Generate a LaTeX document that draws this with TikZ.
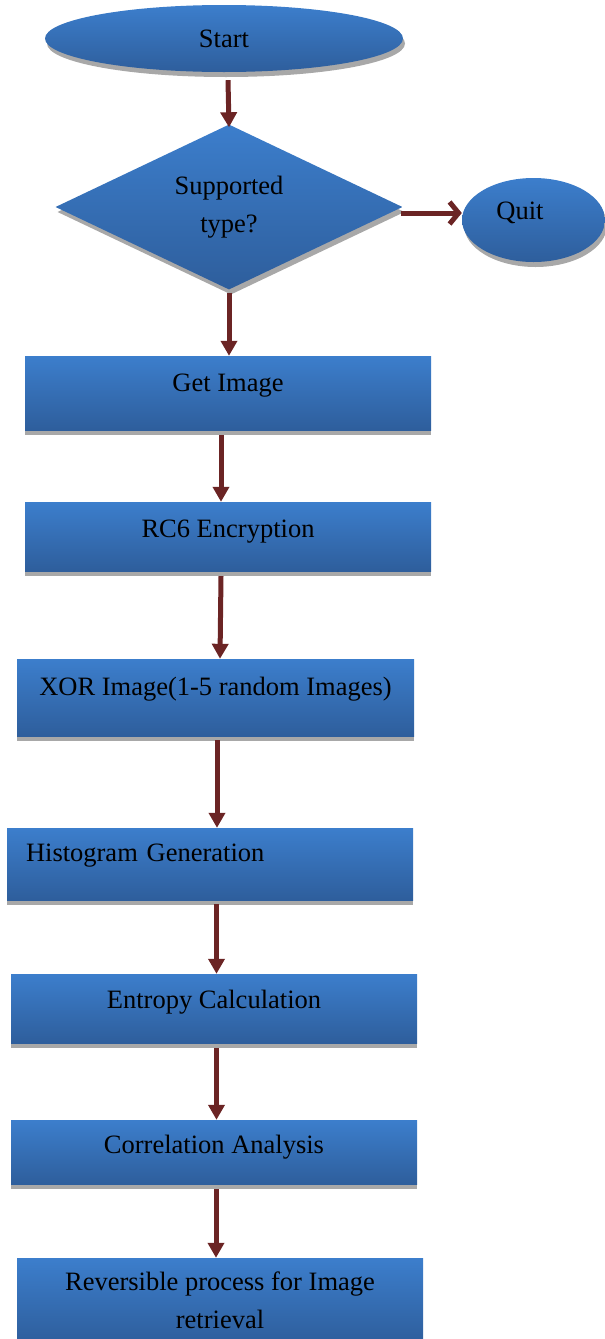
\documentclass[tikz,border=0pt]{standalone}
\usepackage{fontspec}
\setmainfont{Liberation Serif}
\usetikzlibrary{shapes.geometric,shadows,arrows.meta}

\definecolor{blueTop}{RGB}{60,126,204}
\definecolor{blueBot}{RGB}{46,94,156}
\definecolor{shadeGray}{RGB}{168,168,168}
\definecolor{flowRed}{RGB}{107,36,36}

\newcommand{\flowfont}{\fontsize{26.5}{38}\selectfont}

\tikzset{
  base/.style={inner sep=0pt, top color=blueTop, bottom color=blueBot,
    draw=none, font=\flowfont},
  shad/.style={drop shadow={shadow xshift=#1, shadow yshift=-5pt,
    fill=shadeGray, opacity=1}},
  shad/.default=0pt,
  terminal/.style={base, ellipse, shad=2pt},
  decision/.style={base, diamond, shad=2pt, align=center},
  proc/.style={base, rectangle, shad, minimum width=406pt,
    text height=20pt, text depth=#1},
  proc/.default=20pt,
  flow/.style={draw=flowRed, line width=5pt,
    -{Triangle[length=15pt,width=16pt]}},
  flowopen/.style={draw=flowRed, line width=5pt,
    -{Straight Barb[length=9pt,width=22pt,line width=5pt]}},
}

\begin{document}
\begin{tikzpicture}[x=1pt, y=-1pt]
\useasboundingbox (0,0) rectangle (605,1339);

% terminals and decision
\node[terminal, minimum width=358pt, minimum height=67pt] (start) at (224,38.5) {};
\node[name=startlbl, font=\flowfont] at (224,39) {Start};

\node[decision, minimum width=347pt, minimum height=165pt, aspect=2.1] (dec) at (229,207)
  {Supported\\type?};

\node[terminal, minimum width=143pt, minimum height=84pt] (quit) at (533.5,220) {};
\node[name=quitlbl, font=\flowfont] at (520,213) {Quit};

% process boxes
\node[proc=23pt, minimum height=74pt] (get) at (228,393) {Get Image};
\node[proc=18pt, minimum height=69pt] (rc6) at (228,536.5) {RC6 Encryption};
\node[proc=24pt, minimum width=397pt, minimum height=77pt] (xor) at (215.5,697.5)
  {XOR Image(1-5 random Images)};
\node[proc=25pt, minimum height=72pt, text width=368pt, align=left] (hist) at (210,864)
  {Histogram Generation};
\node[proc=20pt, minimum height=69pt] (ent) at (214,1008.5) {Entropy Calculation};
\node[proc=17pt, minimum height=64pt] (cor) at (214,1152) {Correlation Analysis};
% the last box runs past the lower edge of the page
\node[base, rectangle, minimum width=406pt, minimum height=85pt, align=center] (rev)
  at (220,1300.5) {Reversible process for Image\\retrieval};

% connectors
\draw[flow] ([xshift=4pt,yshift=-8pt]start.south) -- ([yshift=-3pt]dec.north);
\draw[flowopen] ([yshift=-6pt,xshift=-2pt]dec.east) -- ([yshift=7pt]quit.west);
\draw[flow] ([yshift=-3pt]dec.south) -- ([xshift=1pt]get.north);
\draw[flow] ([xshift=-7pt,yshift=-5pt]get.south) -- ([xshift=-7pt]rc6.north);
\draw[flow] ([xshift=-7pt,yshift=-5pt]rc6.south) -- ([xshift=4.5pt]xor.north);
\draw[flow] ([xshift=1.5pt,yshift=-4pt]xor.south) -- ([xshift=7pt]hist.north);
\draw[flow] ([xshift=6.5pt,yshift=-4pt]hist.south) -- ([xshift=2.5pt]ent.north);
\draw[flow] ([xshift=2.5pt,yshift=-5pt]ent.south) -- ([xshift=2.5pt]cor.north);
\draw[flow] ([xshift=2pt,yshift=-5pt]cor.south) -- ([xshift=-4pt]rev.north);
\end{tikzpicture}
\end{document}
